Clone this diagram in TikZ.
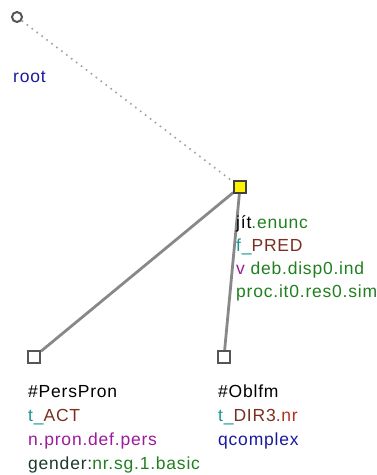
\documentclass[tikz,border=0pt]{standalone}
\usepackage{fontspec}
\setmainfont{Liberation Sans}[LetterSpace=4.5]
\definecolor{tealc}{RGB}{26,150,150}
\definecolor{brownc}{RGB}{122,48,32}
\definecolor{purplec}{RGB}{156,26,156}
\definecolor{greenc}{RGB}{32,128,32}
\definecolor{darkc}{RGB}{26,58,42}
\definecolor{bluec}{RGB}{26,26,160}
\definecolor{nrc}{RGB}{176,48,32}
\definecolor{edgec}{RGB}{136,136,136}
\definecolor{nodec}{RGB}{85,85,85}
\begin{document}
\begin{tikzpicture}[x=1pt,y=-1pt,
  lab/.style={anchor=base west,inner sep=0pt,font=\fontsize{17.5}{23.5}\selectfont},
  rootnode/.style={circle,draw=nodec,fill=white,line width=2pt,minimum size=10pt,inner sep=0pt},
  prednode/.style={rectangle,draw=black!75,fill=yellow,line width=1.5pt,minimum size=12pt,inner sep=0pt},
  leafnode/.style={rectangle,draw=nodec,fill=white,line width=2pt,minimum size=12pt,inner sep=0pt},
  edge/.style={draw=edgec,line width=2.8pt},
  rootedge/.style={draw=edgec!80,line width=1.6pt,dash pattern=on 1.6pt off 4.6pt}]
\useasboundingbox (0,0) rectangle (377,475);
\node[rootnode] (root) at (17,17) {};
\node[prednode] (pred) at (240,187) {};
\node[leafnode] (act) at (34,357) {};
\node[leafnode] (dir) at (224,357) {};
\draw[rootedge] (root) -- (pred);
\draw[edge] (pred) -- (act);
\draw[edge] (pred) -- (dir);
\node[prednode] at (pred) {};
\node[leafnode] at (act) {};
\node[leafnode] at (dir) {};
% labels
\node[lab] (rootlab) at (13,82) {\color{bluec}root};
\node[lab] (p1) at (236,228) {jít\color{greenc}.enunc};
\node[lab] (p2) at (236,251) {\color{tealc}f\_\color{brownc}PRED};
\node[lab] (p3) at (236,274) {\color{purplec}v\ \color{greenc}deb.disp0.ind};
\node[lab] (p4) at (236,297) {\color{greenc}proc.it0.res0.sim};
\node[lab] (a1) at (28,397) {\#PersPron};
\node[lab] (a2) at (28,421) {\color{tealc}t\_\color{brownc}ACT};
\node[lab] (a3) at (28,445) {\color{purplec}n.pron.def.pers};
\node[lab] (a4) at (28,469) {\color{darkc}gender:\color{greenc}nr.sg.1.basic};
\node[lab] (d1) at (218,397) {\#Oblfm};
\node[lab] (d2) at (218,421) {\color{tealc}t\_\color{brownc}DIR3\color{nrc}.nr};
\node[lab] (d3) at (218,445) {\color{bluec}qcomplex};
\end{tikzpicture}
\end{document}
